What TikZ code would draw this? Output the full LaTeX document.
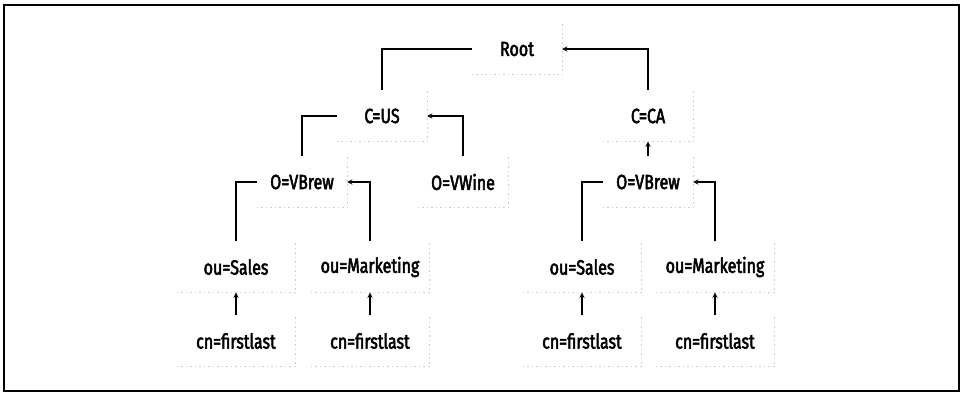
\documentclass[tikz,border=0pt]{standalone}
\usepackage{fontspec}
\setmainfont{Fira Sans}[FakeStretch=0.78, FakeBold=2.5]
\tikzset{>=stealth}
\tikzset{
  entry/.style={inner sep=0pt, minimum height=51pt, font=\fontsize{20.5}{24}\selectfont},
  upper/.style={entry, minimum width=90pt},
  lower/.style={entry, minimum width=118pt},
  link/.style={line width=1.3pt},
  shade/.style={gray!40, line width=0.8pt, dash pattern=on 1.5pt off 3pt},
}

\begin{document}
\begin{tikzpicture}[x=1pt, y=-1pt]
    \useasboundingbox (0,0) rectangle (961,394);
    \draw[line width=1.2pt] (4,5) rectangle (959,391);
    % directory tree
    \node[upper] (root) at (517,49) {Root};
    \node[upper] (us) at (382,116) {C=US};
    \node[upper] (ca) at (648,116) {C=CA};
    \node[upper] (vbrewus) at (302,182) {O=VBrew};
    \node[upper] (vwine) at (463,182) {O=VWine};
    \node[upper] (vbrewca) at (648,182) {O=VBrew};
    \node[lower] (salesus) at (236,267) {ou=Sales};
    \node[lower] (mktus) at (370,267) {ou=Marketing};
    \node[lower] (salesca) at (582,267) {ou=Sales};
    \node[lower] (mktca) at (715,267) {ou=Marketing};
    \node[lower] (cnsalesus) at (236,341) {cn=firstlast};
    \node[lower] (cnmktus) at (370,341) {cn=firstlast};
    \node[lower] (cnsalesca) at (582,341) {cn=firstlast};
    \node[lower] (cnmktca) at (715,341) {cn=firstlast};
    % faded box edges
    \foreach \n in {root, us, ca, vbrewus, vwine, vbrewca, salesus, mktus,
        salesca, mktca, cnsalesus, cnmktus, cnsalesca, cnmktca}
        \draw[shade] (\n.south west) -- (\n.south east) -- (\n.north east);
    % links
    \draw[link] (root.west) -| (us.north);
    \draw[link, <-] (root.east) -| (ca.north);
    \draw[link] (us.west) -| (vbrewus.north);
    \draw[link, <-] (us.east) -| (vwine.north);
    \draw[link, <-] (ca.south) -- (vbrewca.north);
    \draw[link] (vbrewus.west) -| (salesus.north);
    \draw[link, <-] (vbrewus.east) -| (mktus.north);
    \draw[link] (vbrewca.west) -| (salesca.north);
    \draw[link, <-] (vbrewca.east) -| (mktca.north);
    \draw[link, <-] (salesus.south) -- (cnsalesus.north);
    \draw[link, <-] (mktus.south) -- (cnmktus.north);
    \draw[link, <-] (salesca.south) -- (cnsalesca.north);
    \draw[link, <-] (mktca.south) -- (cnmktca.north);
\end{tikzpicture}
\end{document}
